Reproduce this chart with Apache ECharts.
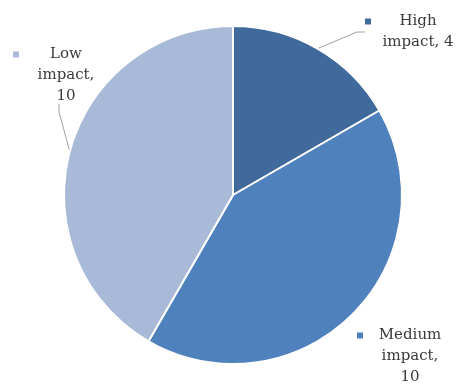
<!DOCTYPE html>
<html>
<head>
<meta charset="utf-8">
<script src="https://cdn.jsdelivr.net/npm/echarts@6/dist/echarts.min.js"></script>
<style>
  html, body { margin: 0; padding: 0; background: #fff; }
  #chart { width: 459px; height: 388px; }
</style>
</head>
<body>
<div id="chart"></div>
<script>
// slices, clockwise from 12 o'clock
const categories = ["High impact", "Medium impact", "Low impact"];
const values = [4, 10, 10];
const colors = ["#40699c", "#4f81bd", "#a9b9d8"];

// where each label block sits (top-left of the legend square / first line)
const labelPos = [
  { x: 365, y: 11 },
  { x: 357, y: 325 },
  { x: 13, y: 44 }
];

const chart = echarts.init(document.getElementById("chart"));

function labelText(p) {
  const words = p.name.split(" ");
  let lines = [words[0]];
  const rest = words.slice(1).join(" ") + ",";
  if (String(p.value).length > 1) {
    lines.push(rest, String(p.value));
  } else {
    lines.push(rest + " " + p.value);
  }
  const sq = "sq" + p.dataIndex;
  return lines
    .map((l, i) => (i === 0 ? "{" + sq + "|}{gap|}" : "{pad|}") + "{t|" + l + "}")
    .join("\n");
}

const rich = {
  gap: { width: 8, height: 21 },
  pad: { width: 14, height: 21 },
  t: {
    width: 78,
    align: "center",
    fontFamily: "DejaVu Serif",
    fontSize: 15,
    lineHeight: 21,
    color: "#3a3a3a"
  }
};
colors.forEach((c, i) => {
  rich["sq" + i] = { width: 6, height: 6, backgroundColor: c };
});

const options = {
  animation: false,
  color: colors,
  series: [
    {
      type: "pie",
      center: [233, 195],
      radius: [0, 169],
      startAngle: 90,
      clockwise: true,
      avoidLabelOverlap: false,
      itemStyle: { borderColor: "#fff", borderWidth: 2 },
      label: {
        show: true,
        position: "outside",
        formatter: labelText,
        rich: rich
      },
      labelLine: {
        show: true,
        length: 12,
        length2: 8,
        lineStyle: { color: "#a0a0a0", width: 1 }
      },
      labelLayout: function (p) {
        const pos = labelPos[p.dataIndex];
        return { x: pos.x, y: pos.y, align: "left", verticalAlign: "top" };
      },
      data: categories.map((name, i) => ({
        name: name,
        value: values[i],
        labelLine: { show: i !== 1 }
      }))
    }
  ]
};

chart.setOption(options);
</script>
</body>
</html>
